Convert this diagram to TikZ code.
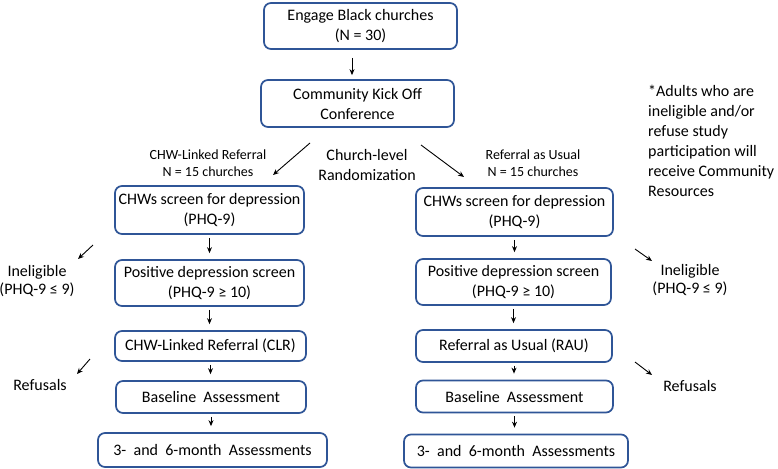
\documentclass[tikz,border=0pt]{standalone}
\usepackage{fontspec}
\setmainfont{Carlito}
\usetikzlibrary{arrows.meta,calc}
\definecolor{boxblue}{RGB}{47,85,151}
\tikzset{
  box/.style={draw=boxblue, line width=1.7pt, rounded corners=7pt, fill=white,
    align=center, inner sep=2pt, font=\fontsize{16}{20}\selectfont},
  arr/.style={draw=black, line width=0.9pt, -{Stealth[length=6pt,width=5pt]}},
  lbl/.style={align=center, inner sep=0pt, font=\fontsize{16}{18}\selectfont},
  slbl/.style={align=center, inner sep=0pt, font=\fontsize{14}{17}\selectfont},
  note/.style={align=left, anchor=north west, inner sep=0pt, font=\fontsize{16}{20}\selectfont}
}
\begin{document}
\begin{tikzpicture}[x=1pt,y=-1pt]
\useasboundingbox (0,0) rectangle (778,468);
% main boxes
\node[box, minimum width=193pt, minimum height=46pt] (engage) at (360.5,26) {Engage Black churches\\(N = 30)};
\node[box, minimum width=193pt, minimum height=47pt] (kick) at (357.5,103.5) {Community Kick Off\\Conference};
% left column
\node[box, minimum width=189pt, minimum height=48pt] (L1) at (209.5,210) {CHWs screen for depression\\(PHQ-9)};
\node[box, minimum width=189pt, minimum height=46pt] (L2) at (209.5,283) {Positive depression screen\\(PHQ-9 ≥ 10)};
\node[box, minimum width=191pt, minimum height=30pt] (L3) at (210.5,346) {CHW-Linked Referral (CLR)};
\node[box, minimum width=190pt, minimum height=32pt] (L4) at (211,397) {Baseline\ \ Assessment};
\node[box, minimum width=229pt, minimum height=34pt] (L5) at (212.5,450) {3-\ \ and\ \ 6-month\ \ Assessments};
% right column
\node[box, minimum width=197pt, minimum height=48pt] (R1) at (514.5,212) {CHWs screen for depression\\(PHQ-9)};
\node[box, minimum width=195pt, minimum height=46pt] (R2) at (513.5,282) {Positive depression screen\\(PHQ-9 ≥ 10)};
\node[box, minimum width=196pt, minimum height=32pt] (R3) at (514,346) {Referral as Usual (RAU)};
\node[box, minimum width=197pt, minimum height=32pt] (R4) at (514.5,396.5) {Baseline\ \ Assessment};
\node[box, minimum width=224pt, minimum height=33pt] (R5) at (516,451) {3-\ \ and\ \ 6-month\ \ Assessments};
% labels
\node[slbl] (lgrp) at (208,163.5) {CHW-Linked Referral\\N = 15 churches};
\node[slbl] (rgrp) at (533,163.5) {Referral as Usual\\N = 15 churches};
\node[lbl, font=\fontsize{16}{20}\selectfont] (rand) at (367,165) {Church-level\\Randomization};
\node[lbl] (lin) at (37,281.5) {Ineligible\\(PHQ-9 ≤ 9)};
\node[lbl] (rin) at (690,280.5) {Ineligible\\(PHQ-9 ≤ 9)};
\node[lbl] (lref) at (40,385) {Refusals};
\node[lbl] (rref) at (690,386) {Refusals};
\node[note] (nt) at (648,85) {*Adults who are\\ineligible and/or\\refuse study\\participation will\\receive Community\\Resources};
% coordinates for free-ended connectors
\coordinate (dl1) at (310,143);
\coordinate (dl2) at (273,175);
\coordinate (dr1) at (421,145);
\coordinate (dr2) at (464,177);
\coordinate (il1) at (93,245);
\coordinate (il2) at (78,259);
\coordinate (rl1) at (90,359);
\coordinate (rl2) at (77,374);
\coordinate (ir1) at (635,249);
\coordinate (ir2) at (652,261);
\coordinate (rr1) at (635,362);
\coordinate (rr2) at (652,375);
% connectors
\draw[arr] ([xshift=-8.5pt,yshift=-8pt]engage.south) -- ([xshift=-5.5pt,yshift=4pt]kick.north);
\draw[arr] (dl1) -- (dl2);
\draw[arr] (dr1) -- (dr2);
\draw[arr] ([yshift=-3pt]L1.south) -- ([yshift=6pt]L1.south |- L2.north);
\draw[arr] ([yshift=-3pt]L2.south) -- ([yshift=6pt]L2.south |- L3.north);
\draw[arr] ([yshift=-3pt]L3.south) -- ([yshift=6pt]L3.south |- L4.north);
\draw[arr] ([yshift=-3pt]L4.south) -- ([yshift=6pt]L4.south |- L5.north);
\draw[arr] ([yshift=-3pt]R1.south) -- ([yshift=6pt]R1.south |- R2.north);
\draw[arr] ([yshift=-3pt]R2.south) -- ([yshift=6pt]R2.south |- R3.north);
\draw[arr] ([yshift=-3pt]R3.south) -- ([yshift=6pt]R3.south |- R4.north);
\draw[arr] ([yshift=-3pt]R4.south) -- ([yshift=6pt]R4.south |- R5.north);
\draw[arr] (il1) -- (il2);
\draw[arr] (rl1) -- (rl2);
\draw[arr] (ir1) -- (ir2);
\draw[arr] (rr1) -- (rr2);
\end{tikzpicture}
\end{document}
